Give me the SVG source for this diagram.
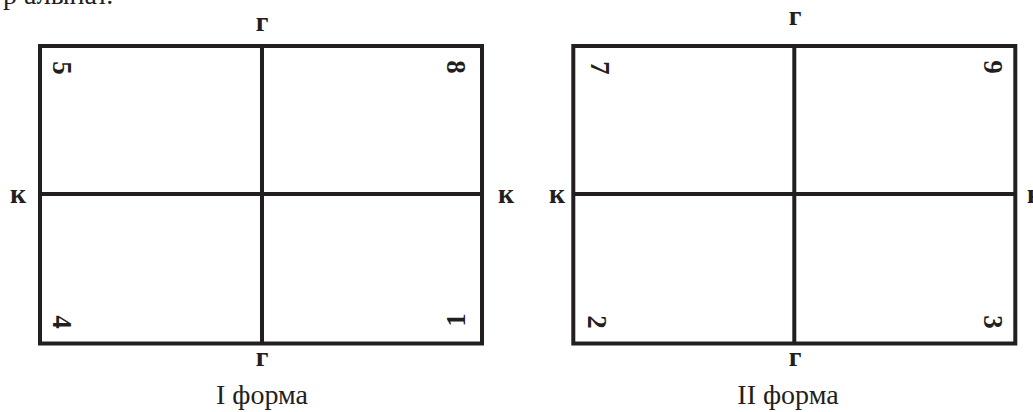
<svg xmlns="http://www.w3.org/2000/svg" width="1033" height="412" viewBox="0 0 1033 412">
<style>
.frame{fill:none;stroke:#231f20;stroke-width:4}
.ln{stroke:#231f20;stroke-width:4}
.lbl{font-family:"Liberation Serif",serif;font-weight:bold;font-size:28px;fill:#231f20;text-anchor:middle}
.num{font-family:"Liberation Serif",serif;font-weight:bold;font-size:27px;fill:#231f20;text-anchor:middle;dominant-baseline:central}
.cap{font-family:"Liberation Serif",serif;font-size:28px;fill:#231f20;text-anchor:middle}
.top{font-family:"Liberation Serif",serif;font-size:28px;fill:#231f20}
</style>
<rect width="1033" height="412" fill="#fff"/>
<text class="top" x="3" y="4">р алынат.</text>
<g id="form1">
<rect class="frame" x="40" y="46" width="442" height="297.5"/>
<line class="ln" x1="262" y1="46" x2="262" y2="343.5"/>
<line class="ln" x1="40" y1="194" x2="482" y2="194"/>
<text class="num" transform="translate(62,68) rotate(90)">5</text>
<text class="num" transform="translate(456,67) rotate(90)">8</text>
<text class="num" transform="translate(62,322) rotate(90)">4</text>
<text class="num" transform="translate(456,320) rotate(-90)">1</text>
<text class="lbl" x="262" y="31">г</text>
<text class="lbl" x="262" y="366">г</text>
<text class="lbl" x="18" y="203">к</text>
<text class="lbl" x="506" y="203">к</text>
<text class="cap" x="262" y="404">I форма</text>
</g>
<g id="form2">
<rect class="frame" x="573.3" y="46" width="442" height="297.5"/>
<line class="ln" x1="794.3" y1="46" x2="794.3" y2="343.5"/>
<line class="ln" x1="573.3" y1="194" x2="1015.3" y2="194"/>
<text class="num" transform="translate(600,68) rotate(90)">7</text>
<text class="num" transform="translate(993,67) rotate(90)">9</text>
<text class="num" transform="translate(597,322) rotate(90)">2</text>
<text class="num" transform="translate(993,322) rotate(90)">3</text>
<text class="lbl" x="795" y="25">г</text>
<text class="lbl" x="795" y="366">г</text>
<text class="lbl" x="557" y="203">к</text>
<text class="lbl" x="1035" y="203">к</text>
<text class="cap" x="788" y="404">II форма</text>
</g>
</svg>
